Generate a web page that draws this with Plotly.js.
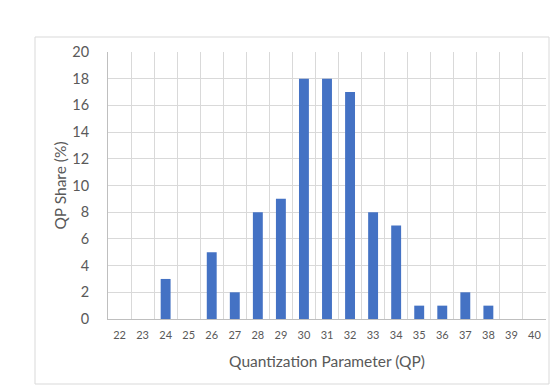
<!DOCTYPE html>
<html><head><meta charset="utf-8">
<script src="https://cdn.plot.ly/plotly-3.0.1.min.js"></script>
<style>html,body{margin:0;padding:0;background:#fff;}#chart{width:560px;height:386px;}</style>
</head><body><div id="chart"></div>
<script>
const qpLabels = ["22","23","24","25","26","27","28","29","30","31","32","33","34","35","36","37","38","39","40"];
const qpShare = [0,0,3,0,5,2,8,9,18,18,17,8,7,1,1,2,1,0,0];
const yTicks = [0,2,4,6,8,10,12,14,16,18,20];

const font = "Lato, 'Noto Sans', sans-serif";
const trace = {
  type: 'bar', x: qpLabels, y: qpShare,
  marker: {color: '#4472C4'}, hoverinfo: 'skip'
};
const L = 108, R = 546, T = 52, B = 319, W = 560, H = 386;
const px = v => (v - L) / (R - L);
const py = v => (B - v) / (B - T);
const layout = {
  width: W, height: H,
  margin: {l: L, r: W - R, t: T, b: H - B, pad: 0},
  paper_bgcolor: '#fff', plot_bgcolor: '#fff',
  showlegend: false, bargap: 0.57,
  font: {family: font, color: '#595959'},
  xaxis: {
    type: 'category', tickson: 'boundaries', showgrid: true, gridcolor: '#d9d9d9', gridwidth: 1,
    showline: true, linecolor: '#bfbfbf', linewidth: 1, ticks: '', ticklabelstandoff: 6,
    tickfont: {size: 11, color: '#595959', family: font},
    title: {text: 'Quantization Parameter (QP)', font: {size: 15.5, color: '#595959', family: font}, standoff: 15},
    fixedrange: true
  },
  yaxis: {
    range: [0, 20], tickvals: yTicks, showgrid: true, gridcolor: '#d9d9d9', gridwidth: 1,
    showline: true, linecolor: '#bfbfbf', linewidth: 1, zeroline: false, ticks: '', ticklabelstandoff: 15,
    tickfont: {size: 14.5, color: '#595959', family: font},
    title: {text: 'QP Share (%)', font: {size: 15.5, color: '#595959', family: font}, standoff: 1},
    fixedrange: true
  },
  shapes: [{type: 'rect', xref: 'paper', yref: 'paper', x0: px(35), x1: px(549), y0: py(384), y1: py(37),
    line: {color: '#d9d9d9', width: 1}, fillcolor: 'rgba(0,0,0,0)', layer: 'below'}]
};
Plotly.newPlot('chart', [trace], layout, {staticPlot: true, displayModeBar: false});
</script></body></html>
